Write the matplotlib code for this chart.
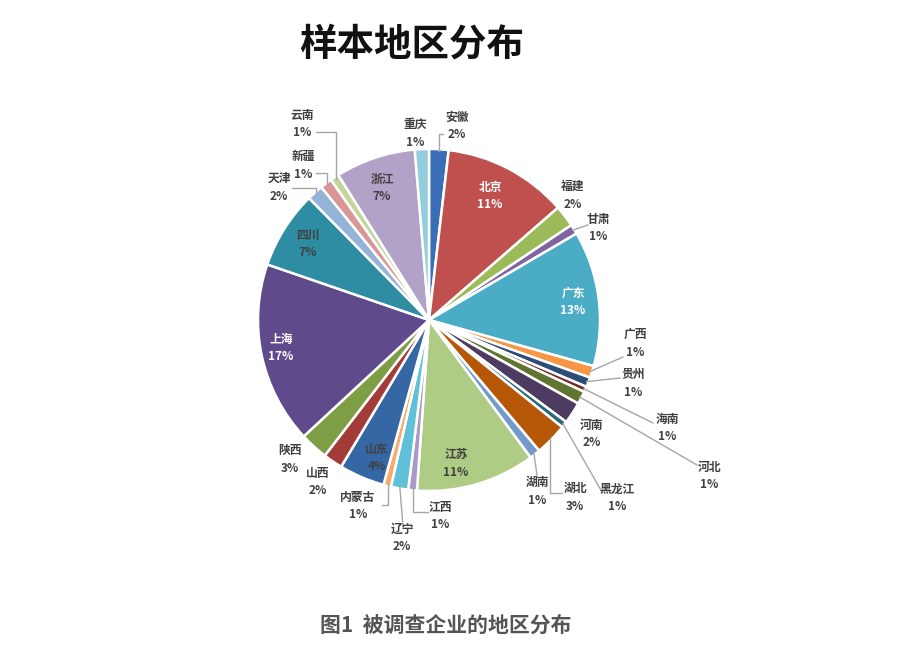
import matplotlib.pyplot as plt
import numpy as np

plt.rcParams['font.family'] = ['Noto Sans CJK SC', 'DejaVu Sans']

# 地区（按拼音顺序，顺时针从12点方向开始）
regions = ['安徽', '北京', '福建', '甘肃', '广东', '广西', '贵州', '海南', '河北',
           '河南', '黑龙江', '湖北', '湖南', '江苏', '江西', '辽宁', '内蒙古', '山东',
           '山西', '陕西', '上海', '四川', '天津', '新疆', '云南', '浙江', '重庆']
# 扇区大小
sizes = [1.8, 11.5, 2.0, 0.9, 12.5, 1.1, 0.9, 0.5, 1.2,
         2.0, 0.6, 3.0, 1.0, 11.0, 0.8, 1.6, 0.7, 4.2,
         1.8, 2.6, 16.8, 7.2, 1.5, 1.1, 0.8, 7.4, 1.3]
# 图上显示的百分比
pct_labels = ['2%', '11%', '2%', '1%', '13%', '1%', '1%', '1%', '1%',
              '2%', '1%', '3%', '1%', '11%', '1%', '2%', '1%', '4%',
              '2%', '3%', '17%', '7%', '2%', '1%', '1%', '7%', '1%']
colors = ['#3a6fb8', '#c0504d', '#9bbb59', '#8064a2', '#4bacc6', '#f79646', '#2c4d75',
          '#772c2a', '#5f7530', '#4d3b62', '#276a7c', '#b65708', '#729aca', '#afcc84',
          '#a99bc8', '#5fc0d8', '#f9ab6b', '#3567a4', '#a33b38', '#7e9e45', '#5f4b8b',
          '#2e8ca3', '#95b3d7', '#d99694', '#c3d69b', '#b3a2c7', '#93cddd']

# 扇区内的标签位置（像素）
inside = {'北京': (490, 196, 'white'), '广东': (573, 302, 'white'),
          '上海': (281, 348, 'white'), '四川': (308, 244, '#404040'),
          '浙江': (382, 188, '#404040'), '江苏': (456, 463, '#404040'),
          '山东': (377, 458, '#404040')}
# 扇区外的标签：文字中心，引线起点，折线方向
outside = {'安徽': (457, 126, (443, 134), 'h'), '重庆': (415, 133, None, None),
           '云南': (302, 124, (316, 132), 'h'), '新疆': (303, 165, (316, 173), 'h'),
           '天津': (279, 187, (292, 188), 'h'), '福建': (573, 195, None, None),
           '甘肃': (598, 228, (588, 225), None), '广西': (635, 343, (623, 357), None),
           '贵州': (633, 383, (620, 378), None), '海南': (667, 428, (653, 423), None),
           '河北': (709, 476, (697, 465), None), '河南': (592, 434, None, None),
           '黑龙江': (617, 498, (602, 492), None), '湖北': (575, 497, (562, 493), 'h'),
           '湖南': (537, 491, (537, 475), None), '江西': (440, 516, (428, 512), 'h'),
           '辽宁': (402, 538, (403, 526), None), '内蒙古': (358, 506, (382, 505), 'h'),
           '山西': (318, 482, None, None), '陕西': (290, 459, None, None)}

cx, cy, R = 429, 320, 171

fig = plt.figure(figsize=(8.99, 6.69), dpi=100)
ax = fig.add_axes([0, 0, 1, 1])
wedges, _ = ax.pie(sizes, colors=colors, startangle=-90, counterclock=True,
                   center=(cx, cy), radius=R,
                   wedgeprops=dict(edgecolor='white', linewidth=1.8))
ax.set_xlim(0, 899)
ax.set_ylim(669, 0)
ax.set_aspect('auto')
ax.axis('off')

lab_font = dict(fontsize=8.5, fontweight='bold', ha='center', va='center')
for w, name, pct in zip(wedges, regions, pct_labels):
    if name in inside:
        x, y, c = inside[name]
        ax.text(x, y, name + '\n' + pct, color=c, linespacing=1.5, **lab_font)
        continue
    x, y, attach, mode = outside[name]
    ax.text(x, y, name + '\n' + pct, color='#404040', linespacing=1.5, **lab_font)
    if attach is None:
        continue
    mid = np.deg2rad((w.theta1 + w.theta2) / 2)
    axp = cx + R * 0.99 * np.cos(mid)
    ayp = cy + R * 0.99 * np.sin(mid)
    xs, ys = [attach[0]], [attach[1]]
    if mode == 'h':
        xs.append(axp)
        ys.append(attach[1])
    xs.append(axp)
    ys.append(ayp)
    ax.plot(xs, ys, color='#a6a6a6', linewidth=1.0)

fig.text(412 / 899, 1 - 44 / 669, '样本地区分布', fontsize=27, fontweight='bold',
         ha='center', va='center', color='#111111')
fig.text(446 / 899, 1 - 625 / 669, '图1  被调查企业的地区分布', fontsize=15,
         fontweight='bold', ha='center', va='center', color='#555555')

fig.savefig('out.png', dpi=100, facecolor='white')
